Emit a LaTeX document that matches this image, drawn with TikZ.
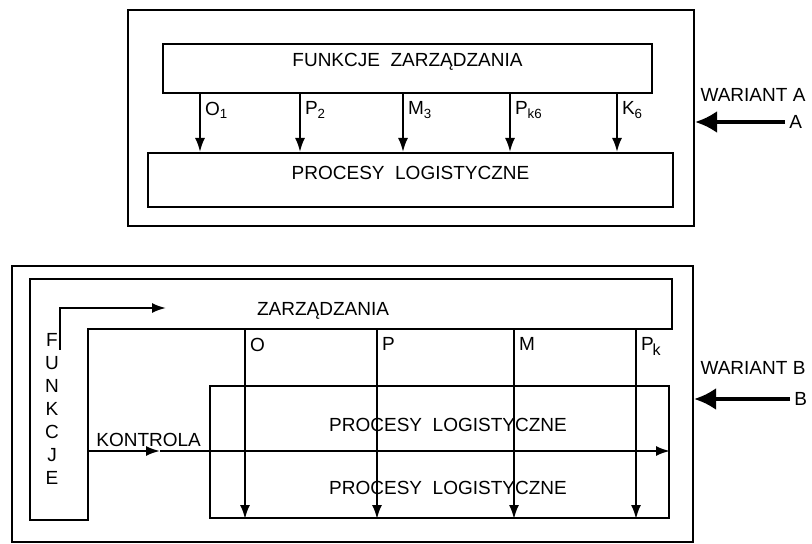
\documentclass[tikz,border=0pt]{standalone}
\usepackage{fontspec}
\setmainfont{Liberation Sans}
\usetikzlibrary{arrows.meta,positioning,fit,calc}

\begin{document}
\begin{tikzpicture}[x=0.5pt, y=-0.5pt,
  box/.style={draw, line width=1pt, inner sep=0pt, font=\fontsize{9.5}{11}\selectfont},
  arr/.style={line width=1pt, -{Latex[length=7pt, width=5pt]}},
  big/.style={line width=2pt, -{Latex[length=11pt, width=11pt]}},
  lab/.style={font=\fontsize{9.5}{11}\selectfont, inner sep=2pt},
]
  \useasboundingbox (0,0) rectangle (812,544);

  % Variant A: functions above the logistic processes.
  \node[box, fit={(128,10) (694,226)}] (frameA) {};
  \node[box, fit={(163,44) (652,93)}] (fzA) {FUNKCJE~~ZARZĄDZANIA};
  \node[box, fit={(148,153) (673,207)}] (plA) {PROCESY~~LOGISTYCZNE};
  \foreach \x/\t in {200/O\textsubscript{1}, 300/P\textsubscript{2},
                     403/M\textsubscript{3}, 510/P\textsubscript{k6},
                     617/K\textsubscript{6}}
    \draw[arr] (\x,0 |- fzA.south) -- (\x,0 |- plA.north)
      node[pos=0.05, below right, lab] {\t};

  \node[lab] (wA) at (753,95) {WARIANT A};
  \coordinate (inA) at (785,122);
  \draw[big] (inA) -- (frameA.east |- inA);
  \node[lab, right] (tA) at (inA) {A};

  % Variant B: functions wrapped round the logistic processes.
  \node[box, fit={(12,266) (693,542)}] (frameB) {};
  \draw[line width=1pt] (30,279) -- (672,279) -- (672,329) -- (88,329)
    -- (88,520) -- (30,520) -- cycle;
  \coordinate (barS) at (0,329);
  \node[lab] (zB) at (323,311) {ZARZĄDZANIA};
  \node[lab, align=center, font=\fontsize{9.5}{11.5}\selectfont] (fB) at (52,409)
    {F\\U\\N\\K\\C\\J\\E};
  \coordinate (f0) at (60,350);
  \coordinate (f1) at (166,308);
  \draw[arr] (f0) |- (f1);

  \node[box, fit={(210,386) (669,518)}] (plB) {};
  \node[lab] (p1) at (448,425) {PROCESY~~LOGISTYCZNE};
  \node[lab] (p2) at (448,488) {PROCESY~~LOGISTYCZNE};

  % Control loop through the processes.
  \coordinate (k0) at (88,451);
  \coordinate (k1) at (160,451);
  \draw[arr] (k0) -- (k1);
  \draw[arr] (k1) -- (plB.east |- k0);
  \node[lab, above right] (kB) at (92,451) {KONTROLA};

  \foreach \x/\t in {245/O, 377/P, 514/M,
                     636/P\kern-0.5pt\raisebox{-2.5pt}{\footnotesize k}}
    \draw[arr] (\x,0 |- barS) -- (\x,0 |- plB.south)
      node[pos=0.02, below right, lab] {\t};

  \node[lab] (wB) at (753,368) {WARIANT B};
  \coordinate (inB) at (790,399);
  \draw[big] (inB) -- (frameB.east |- inB);
  \node[lab, right] (tB) at (inB) {B};
\end{tikzpicture}
\end{document}
